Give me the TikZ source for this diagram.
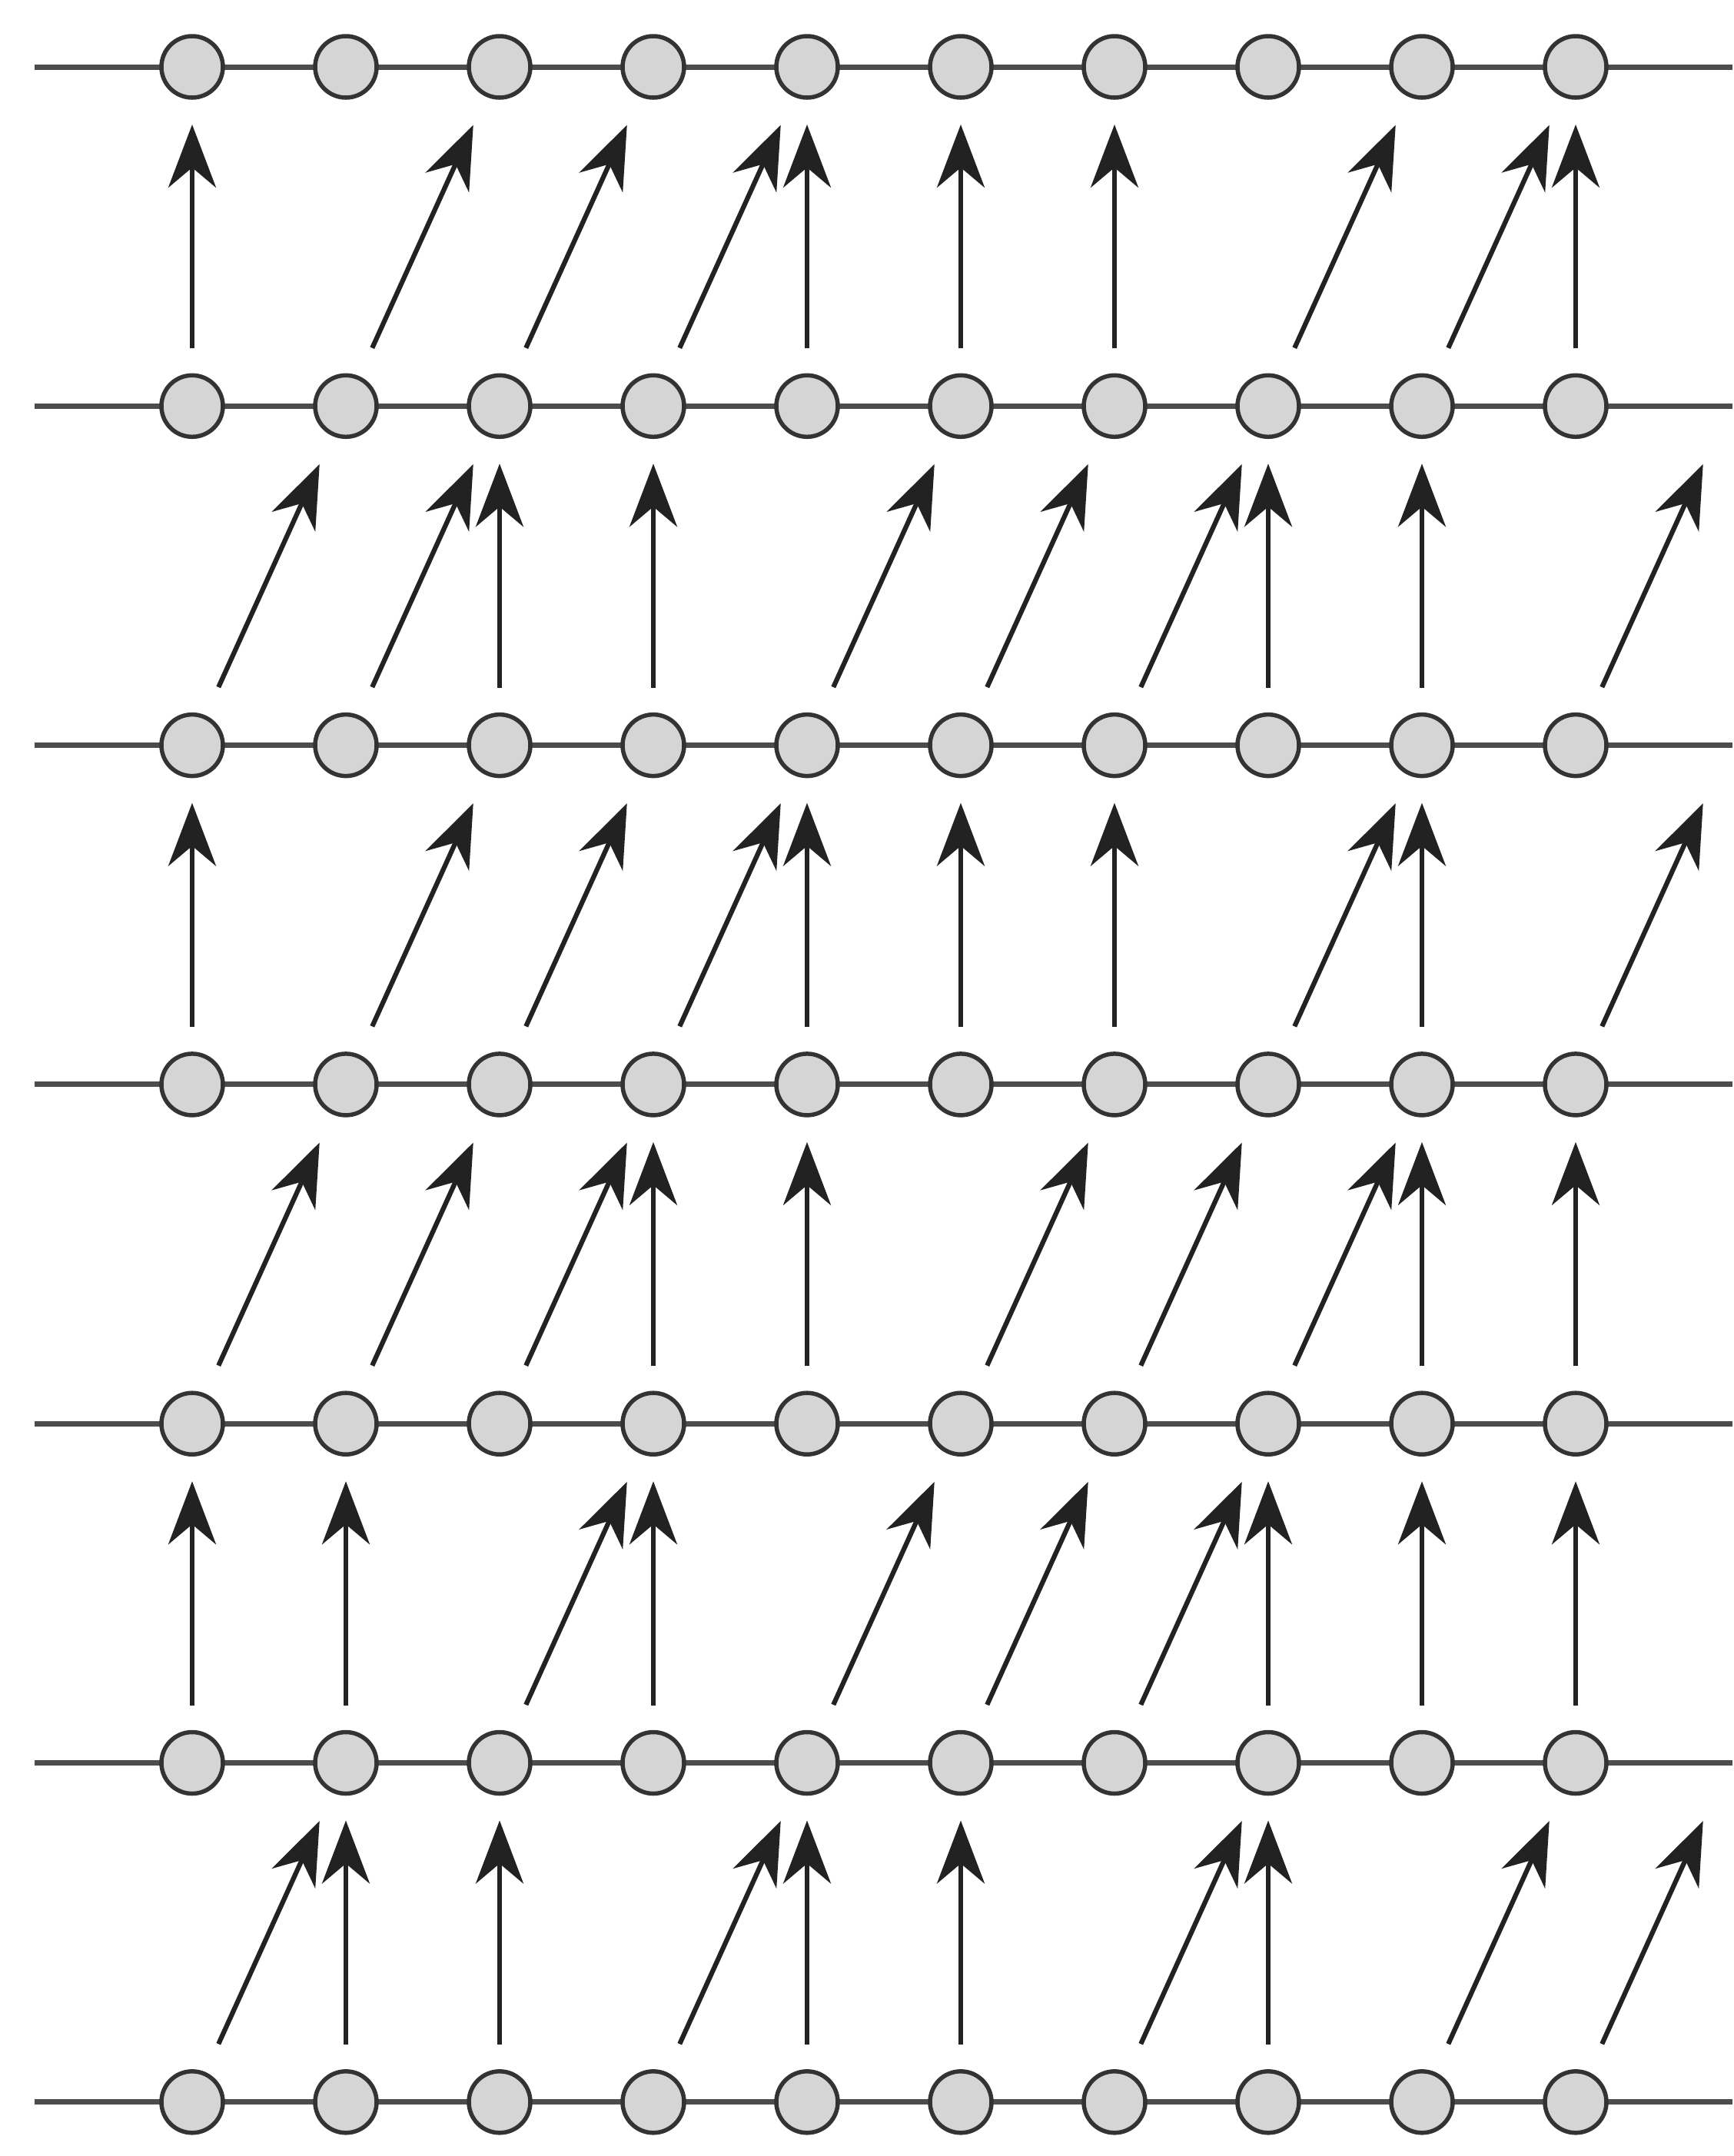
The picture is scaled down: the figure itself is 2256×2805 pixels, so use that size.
\documentclass[tikz,border=0pt]{standalone}
\usetikzlibrary{arrows.meta}
\definecolor{railgray}{HTML}{4C4C4C}
\definecolor{beadfill}{HTML}{D5D5D5}
\definecolor{beadedge}{HTML}{333333}
\definecolor{hopink}{HTML}{222222}
\tikzset{
  rail/.style={draw=railgray, line width=0.7mm},
  bead/.style={circle, draw=beadedge, fill=beadfill, line width=0.55mm,
    minimum size=8mm, inner sep=0pt},
  hop/.style={draw=hopink, line width=0.62mm,
    -{Stealth[length=8.2mm, width=6.2mm, inset=2.6mm]}},
  rise/.style={hop, shorten <=7.5mm, shorten >=7.5mm},
  lean/.style={hop, shorten <=8.3mm, shorten >=8.3mm}
}

\begin{document}
\begin{tikzpicture}[x=0.1mm, y=-0.1mm]
  \useasboundingbox (0,0) rectangle (2256,2805);
  % rails (drawn first, beads sit on top)
  \foreach \r in {0,...,6} {
    \coordinate (w\r) at (45, 87+441.3*\r);
    \coordinate (e\r) at (2254, 87+441.3*\r);
    \coordinate (b\r-10) at (2250, 87+441.3*\r); % target past the last bead
    \draw[rail] (w\r) -- (e\r);
  }
  % beads
  \foreach \r in {0,...,6}
    \foreach \i in {0,...,9}
      \node[bead] (b\r-\i) at (250+200*\i, 87+441.3*\r) {};

  % row 1 -> row 0
  \foreach \i in {0,4,5,6,9} \draw[rise] (b1-\i.center) -- (b0-\i.center);
  \foreach \i [evaluate=\i as \j using int(\i+1)] in {1,2,3,7,8}
    \draw[lean] (b1-\i.center) -- (b0-\j.center);
  % row 2 -> row 1
  \foreach \i in {2,3,7,8} \draw[rise] (b2-\i.center) -- (b1-\i.center);
  \foreach \i [evaluate=\i as \j using int(\i+1)] in {0,1,4,5,6,9}
    \draw[lean] (b2-\i.center) -- (b1-\j.center);
  % row 3 -> row 2
  \foreach \i in {0,4,5,6,8} \draw[rise] (b3-\i.center) -- (b2-\i.center);
  \foreach \i [evaluate=\i as \j using int(\i+1)] in {1,2,3,7,9}
    \draw[lean] (b3-\i.center) -- (b2-\j.center);
  % row 4 -> row 3
  \foreach \i in {3,4,8,9} \draw[rise] (b4-\i.center) -- (b3-\i.center);
  \foreach \i [evaluate=\i as \j using int(\i+1)] in {0,1,2,5,6,7}
    \draw[lean] (b4-\i.center) -- (b3-\j.center);
  % row 5 -> row 4
  \foreach \i in {0,1,3,7,8,9} \draw[rise] (b5-\i.center) -- (b4-\i.center);
  \foreach \i [evaluate=\i as \j using int(\i+1)] in {2,4,5,6}
    \draw[lean] (b5-\i.center) -- (b4-\j.center);
  % row 6 -> row 5
  \foreach \i in {1,2,4,5,7} \draw[rise] (b6-\i.center) -- (b5-\i.center);
  \foreach \i [evaluate=\i as \j using int(\i+1)] in {0,3,6,8,9}
    \draw[lean] (b6-\i.center) -- (b5-\j.center);
\end{tikzpicture}
\end{document}
